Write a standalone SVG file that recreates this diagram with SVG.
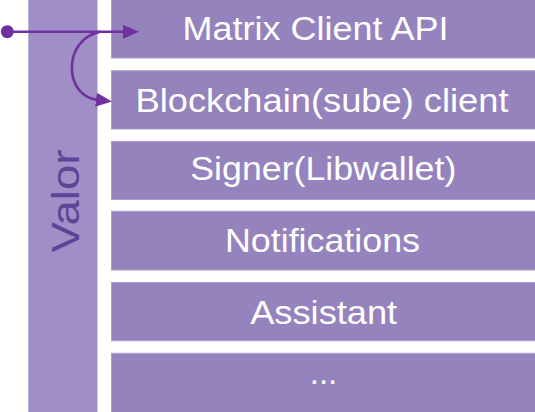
<svg xmlns="http://www.w3.org/2000/svg" width="535" height="412" viewBox="0 0 535 412">
  <defs>
    <style>
      .layer { fill: #9583bd; stroke: #ab9dd0; stroke-width: 1; }
      .col { fill: #a08ec6; }
      .lbl { font-family: "Liberation Sans", Arial, sans-serif; font-size: 33px; fill: #ffffff; text-anchor: middle; }
      .valor { font-family: "Liberation Sans", Arial, sans-serif; font-size: 39px; fill: #5d4497; text-anchor: middle; }
      .conn { fill: none; stroke: #7030a0; stroke-width: 2.6; }
    </style>
    <marker id="arrow" viewBox="0 0 16 14" refX="1" refY="7" markerWidth="16" markerHeight="14" markerUnits="userSpaceOnUse" orient="auto">
      <path d="M0,0 L16,7 L0,14 z" fill="#7030a0"/>
    </marker>
  </defs>
  <rect width="535" height="412" fill="#ffffff"/>

  <g id="valor">
    <rect class="col" x="28.3" y="0" width="69.2" height="412"/>
    <text class="valor" transform="translate(78.5,201) rotate(-90)" x="0" y="0" textLength="103" lengthAdjust="spacingAndGlyphs">Valor</text>
  </g>

  <g id="matrix-client-api">
    <rect class="layer" x="111.5" y="-1" width="424" height="59"/>
    <text class="lbl" x="315.5" y="39.5" textLength="266" lengthAdjust="spacingAndGlyphs">Matrix Client API</text>
  </g>
  <g id="blockchain-client">
    <rect class="layer" x="111.5" y="70.7" width="424" height="58.3"/>
    <text class="lbl" x="322" y="111.5" textLength="373" lengthAdjust="spacingAndGlyphs">Blockchain(sube) client</text>
  </g>
  <g id="signer">
    <rect class="layer" x="111.5" y="141.5" width="424" height="58"/>
    <text class="lbl" x="323.3" y="180" textLength="266" lengthAdjust="spacingAndGlyphs">Signer(Libwallet)</text>
  </g>
  <g id="notifications">
    <rect class="layer" x="111.5" y="211.3" width="424" height="58.7"/>
    <text class="lbl" x="322.5" y="251.5" textLength="195" lengthAdjust="spacingAndGlyphs">Notifications</text>
  </g>
  <g id="assistant">
    <rect class="layer" x="111.5" y="282.5" width="424" height="58.2"/>
    <text class="lbl" x="323.7" y="323.5" textLength="147" lengthAdjust="spacingAndGlyphs">Assistant</text>
  </g>
  <g id="more">
    <rect class="layer" x="111.5" y="353.3" width="424" height="60"/>
    <text class="lbl" x="323.5" y="384">...</text>
  </g>

  <g id="connectors">
    <circle cx="7.3" cy="31.7" r="6.5" fill="#7030a0"/>
    <line class="conn" x1="7" y1="31.7" x2="124" y2="31.7" marker-end="url(#arrow)"/>
    <path class="conn" d="M100,31.7 C62,40 64,96 97,99.8" marker-end="url(#arrow)"/>
  </g>
</svg>
